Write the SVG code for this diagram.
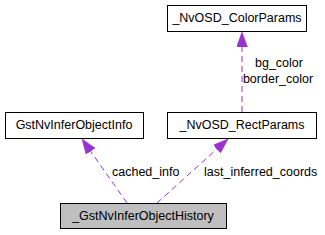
<svg xmlns="http://www.w3.org/2000/svg" width="325" height="235" viewBox="0 0 325 235">
<style>
text{font-family:"Liberation Sans",Arial,sans-serif;font-size:12.5px;fill:#000}
.box{fill:#fff;stroke:#000;stroke-width:1}
.cur{fill:#bfbfbf;stroke:#000;stroke-width:1}
.edge{fill:none;stroke:#9a32cd;stroke-width:1;stroke-dasharray:6,4}
.mid{text-anchor:middle}
</style>
<defs>
<marker id="ah" viewBox="0 0 15 11" refX="15" refY="5.5" markerWidth="15" markerHeight="11" markerUnits="userSpaceOnUse" orient="auto">
<path d="M0,0 L15,5.5 L0,11 z" fill="#9a32cd" stroke="#9a32cd" stroke-width="0.5"/>
</marker>
</defs>
<g id="connectors">
<path class="edge" d="M127,203 L82,139" marker-end="url(#ah)"/>
<path class="edge" d="M157,203 L228,139" marker-end="url(#ah)"/>
<path class="edge" d="M242,112 L242,32" marker-end="url(#ah)"/>
<text x="112" y="176">cached_info</text>
<text x="204" y="176">last_inferred_coords</text>
<text x="279" y="67" class="mid">bg_color</text>
<text x="278" y="83" class="mid">border_color</text>
</g>
<g id="history">
<rect class="cur" x="60.5" y="203.5" width="166" height="25"/>
<text x="143" y="220" class="mid">_GstNvInferObjectHistory</text>
</g>
<g id="objinfo">
<rect class="box" x="5.5" y="112.5" width="138" height="26"/>
<text x="74" y="129" class="mid">GstNvInferObjectInfo</text>
</g>
<g id="rectparams">
<rect class="box" x="167.5" y="112.5" width="149" height="26"/>
<text x="242" y="129" class="mid">_NvOSD_RectParams</text>
</g>
<g id="colorparams">
<rect class="box" x="167.5" y="5.5" width="139" height="26"/>
<text x="237" y="22" class="mid">_NvOSD_ColorParams</text>
</g>
</svg>
